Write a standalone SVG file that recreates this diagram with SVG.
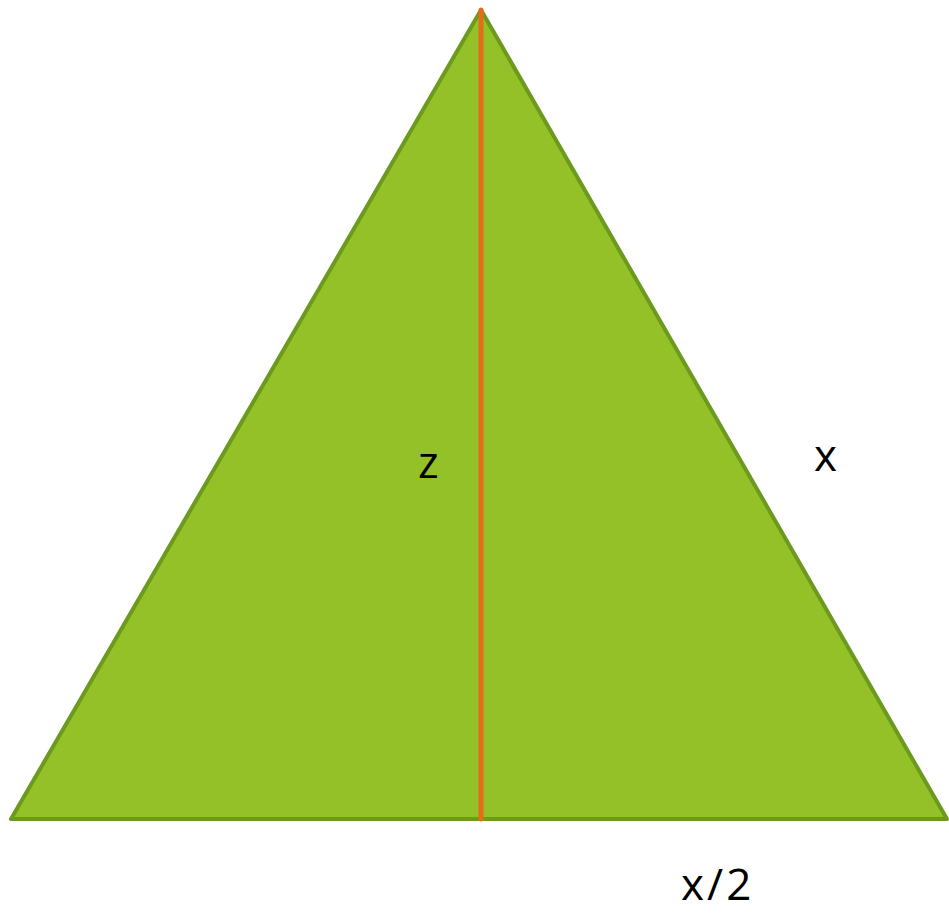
<svg xmlns="http://www.w3.org/2000/svg" width="949" height="914" viewBox="0 0 949 914">
<style>
.lbl{font-family:"Open Sans","Liberation Sans",sans-serif;font-size:44px;fill:#000}
</style>
<rect width="949" height="914" fill="#fff"/>
<g id="triangle">
<polygon points="481,10 11,819 947,819" fill="#93c127" stroke="#6b9a1e" stroke-width="4" stroke-linejoin="round"/>
</g>
<g id="connectors">
<line x1="481" y1="10" x2="481" y2="819" stroke="#e46c1a" stroke-width="5" stroke-linecap="round"/>
</g>
<g id="labels">
<text class="lbl" x="418" y="478">z</text>
<text class="lbl" x="814" y="471" letter-spacing="2">x</text>
<text class="lbl" x="681" y="900" letter-spacing="3">x/2</text>
</g>
</svg>
